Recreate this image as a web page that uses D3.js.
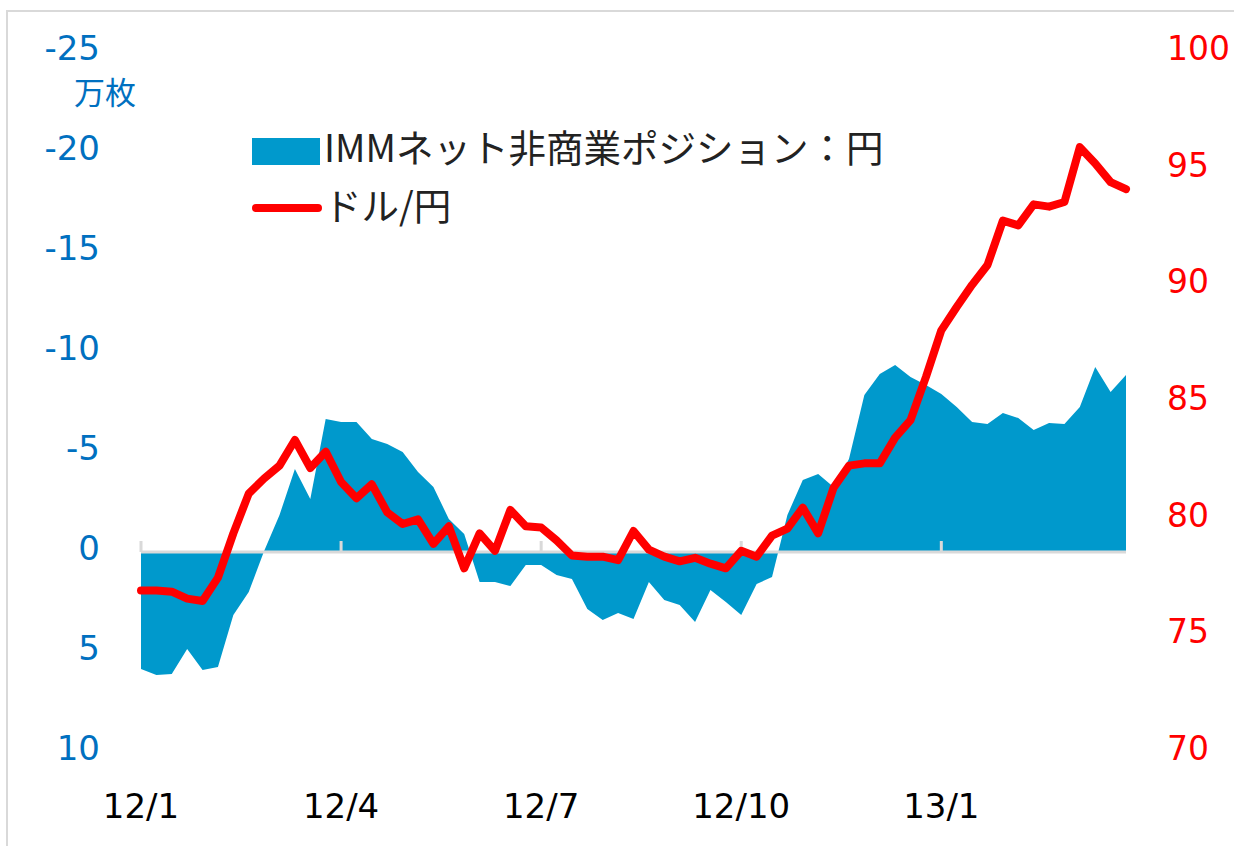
<!DOCTYPE html>
<html>
<head>
<meta charset="utf-8">
<script src="https://cdn.jsdelivr.net/npm/d3@7"></script>
<style>
  body { margin: 0; background: #fff; }
  svg { display: block; }
</style>
</head>
<body>
<div id="chart"></div>
<script>
// weekly points, Jan 2012 .. Mar 2013 (index 0 = first week of 12/1)
var tickLabels = ["12/1", "12/4", "12/7", "12/10", "13/1"];
var tickIndex = [0, 13, 26, 39, 52];

// IMM net non-commercial yen position, 10k contracts (axis is inverted: negative = up)
var immPosition = [
  5.9, 6.2, 6.15, 4.9, 5.95, 5.8, 3.2, 2.05, 0.0, -1.8,
  -4.1, -2.6, -6.6, -6.45, -6.45, -5.6, -5.35, -4.95, -3.95, -3.2,
  -1.6, -0.85, 1.55, 1.55, 1.75, 0.7, 0.7, 1.2, 1.4, 2.9,
  3.45, 3.1, 3.4, 1.55, 2.45, 2.7, 3.55, 1.95, 2.55, 3.2,
  1.65, 1.3, -1.8, -3.55, -3.85, -3.2, -4.6, -7.8, -8.85, -9.3,
  -8.7, -8.3, -7.85, -7.2, -6.45, -6.35, -6.9, -6.65, -6.05, -6.4,
  -6.35, -7.2, -9.2, -7.95, -8.8
];

// USD/JPY
var usdJpy = [
  76.75, 76.75, 76.7, 76.4, 76.3, 77.3, 79.2, 80.9, 81.55, 82.1,
  83.2, 82.0, 82.7, 81.4, 80.7, 81.3, 80.1, 79.6, 79.8, 78.75,
  79.5, 77.7, 79.2, 78.45, 80.2, 79.5, 79.45, 78.9, 78.25, 78.2,
  78.2, 78.05, 79.3, 78.5, 78.2, 78.0, 78.15, 77.9, 77.7, 78.45,
  78.2, 79.1, 79.4, 80.3, 79.2, 81.15, 82.1, 82.2, 82.2, 83.3,
  84.05, 85.9, 87.9, 88.9, 89.85, 90.7, 92.6, 92.4, 93.3, 93.2,
  93.4, 95.75, 95.05, 94.25, 93.95
];

var leftTicks = [-25, -20, -15, -10, -5, 0, 5, 10];
var rightTicks = [70, 75, 80, 85, 90, 95, 100];

var width = 1234, height = 846;
var numFont = "'DejaVu Sans', Verdana, sans-serif";
var jpFont = "'Noto Sans CJK JP', 'Noto Sans', sans-serif";

var svg = d3.select("#chart").append("svg")
  .attr("width", width).attr("height", height);

// frame (only top and left edges show)
svg.append("path")
  .attr("d", "M7,846 V11 H1234")
  .attr("fill", "none")
  .attr("stroke", "#d9d9d9")
  .attr("stroke-width", 2);

var x = d3.scaleLinear().domain([0, immPosition.length - 1]).range([141, 1126]);
var yL = d3.scaleLinear().domain([-25, 10]).range([51, 751]);
var yR = d3.scaleLinear().domain([70, 100]).range([748, 48]);

// area
var area = d3.area()
  .x(function(d, i) { return x(i); })
  .y0(yL(0))
  .y1(function(d) { return yL(d); });

svg.append("path")
  .datum(immPosition)
  .attr("d", area)
  .attr("fill", "#0099cc");

// zero baseline + quarter ticks
svg.append("line")
  .attr("x1", x(0)).attr("x2", x(immPosition.length - 1))
  .attr("y1", yL(0) + 1).attr("y2", yL(0) + 1)
  .attr("stroke", "#d9d9d9").attr("stroke-width", 3);

svg.selectAll(".qtick")
  .data(tickIndex)
  .enter().append("line")
    .attr("class", "qtick")
    .attr("x1", function(d) { return x(d); })
    .attr("x2", function(d) { return x(d); })
    .attr("y1", yL(0) - 10).attr("y2", yL(0) + 1)
    .attr("stroke", "#d9d9d9").attr("stroke-width", 3);

// usd/jpy line
var line = d3.line()
  .x(function(d, i) { return x(i); })
  .y(function(d) { return yR(d); });

svg.append("path")
  .datum(usdJpy)
  .attr("d", line)
  .attr("fill", "none")
  .attr("stroke", "#ff0000")
  .attr("stroke-width", 8)
  .attr("stroke-linejoin", "round")
  .attr("stroke-linecap", "round");

// left axis labels
svg.selectAll(".ltick")
  .data(leftTicks)
  .enter().append("text")
    .attr("class", "ltick")
    .attr("x", 100)
    .attr("y", function(d) { return yL(d) - 3; })
    .attr("dy", "0.36em")
    .attr("text-anchor", "end")
    .attr("fill", "#0070c0")
    .style("font-family", numFont)
    .style("font-size", "34px")
    .text(function(d) { return d; });

svg.append("text")
  .attr("x", 74).attr("y", 104)
  .attr("fill", "#0070c0")
  .style("font-family", jpFont)
  .style("font-size", "31px")
  .text("万枚");

// right axis labels
svg.selectAll(".rtick")
  .data(rightTicks)
  .enter().append("text")
    .attr("class", "rtick")
    .attr("x", 1167)
    .attr("y", function(d) { return yR(d); })
    .attr("dy", "0.36em")
    .attr("fill", "#ff0000")
    .style("font-family", numFont)
    .style("font-size", "33px")
    .text(function(d) { return d; });

// x labels
svg.selectAll(".xlab")
  .data(tickIndex)
  .enter().append("text")
    .attr("class", "xlab")
    .attr("x", function(d) { return x(d); })
    .attr("y", 818)
    .attr("text-anchor", "middle")
    .attr("fill", "#000")
    .style("font-family", numFont)
    .style("font-size", "34px")
    .text(function(d, i) { return tickLabels[i]; });

// legend
var legend = svg.append("g");
legend.append("rect")
  .attr("x", 252).attr("y", 138)
  .attr("width", 68).attr("height", 27)
  .attr("fill", "#0099cc");
legend.append("text")
  .attr("x", 324).attr("y", 162)
  .attr("fill", "#222")
  .style("font-family", jpFont)
  .style("font-size", "37.5px")
  .text("IMMネット非商業ポジション：円");
legend.append("line")
  .attr("x1", 256).attr("x2", 318)
  .attr("y1", 208).attr("y2", 208)
  .attr("stroke", "#ff0000")
  .attr("stroke-width", 8)
  .attr("stroke-linecap", "round");
legend.append("text")
  .attr("x", 324).attr("y", 220)
  .attr("fill", "#222")
  .style("font-family", jpFont)
  .style("font-size", "37.5px")
  .text("ドル/円");
</script>
</body>
</html>
